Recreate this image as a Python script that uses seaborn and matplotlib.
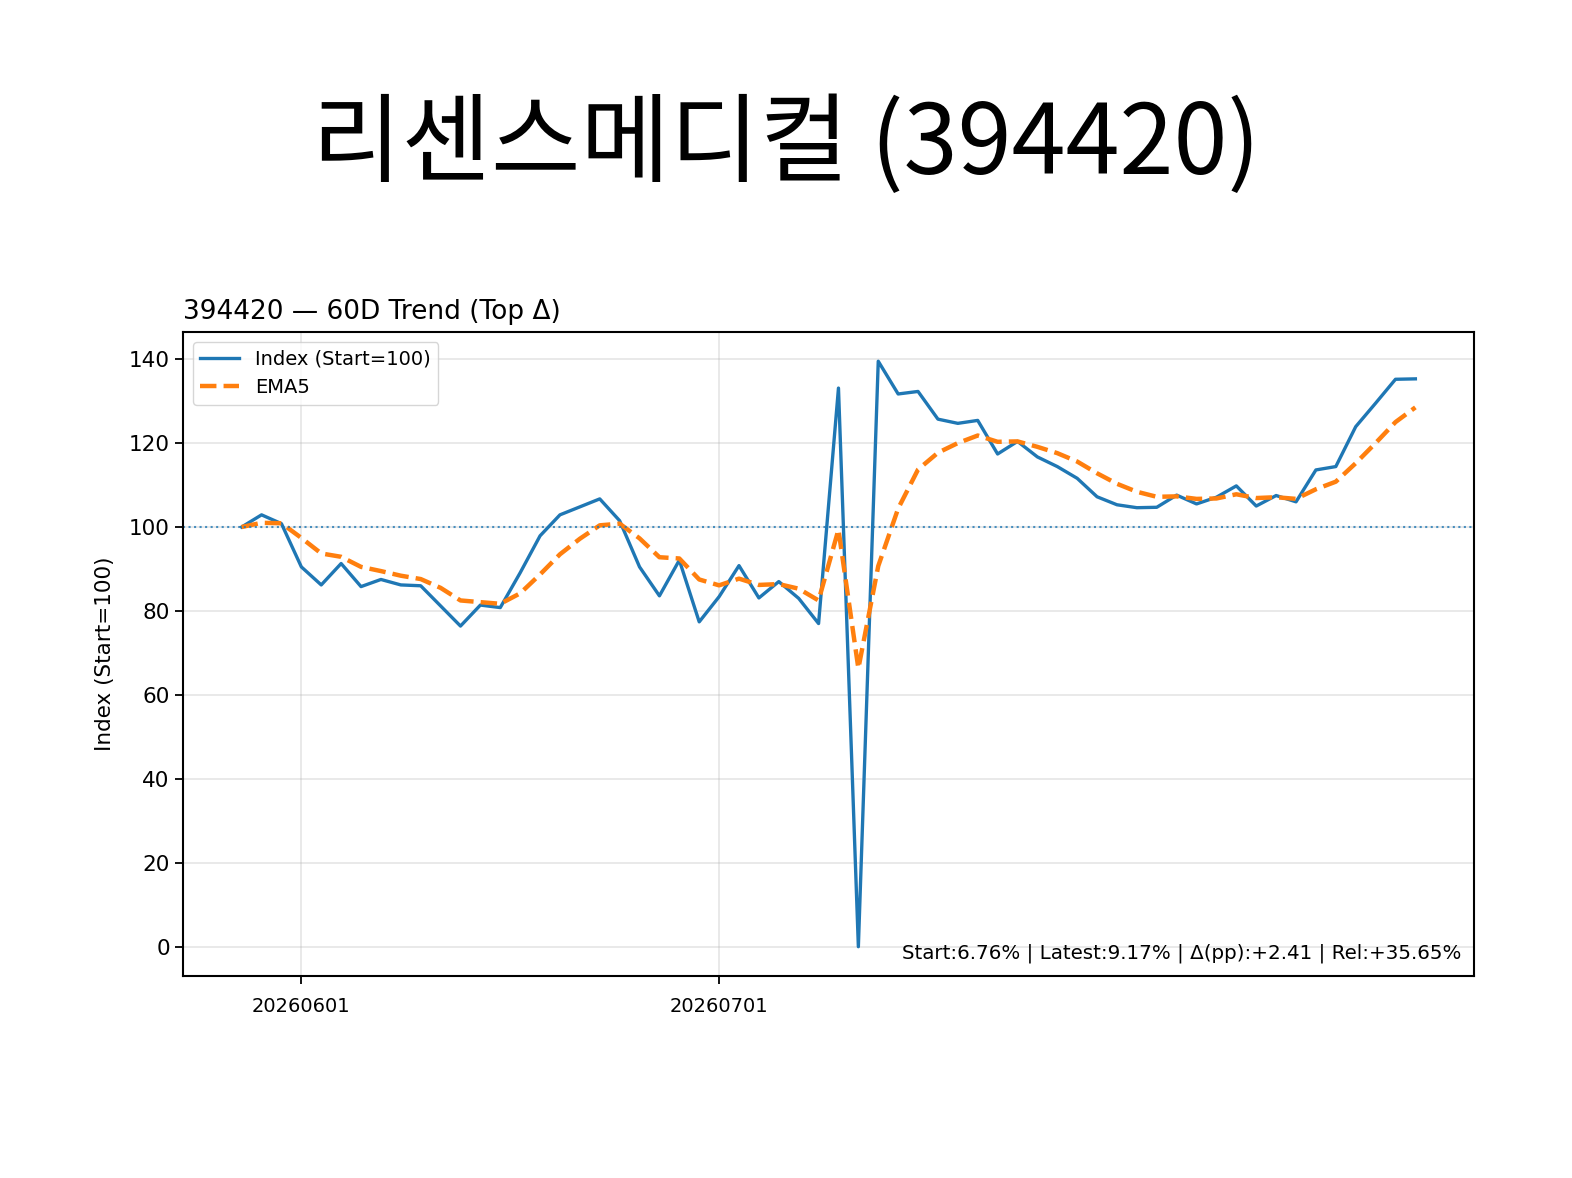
import pandas as pd
import matplotlib
matplotlib.use("Agg")
import matplotlib.pyplot as plt
import seaborn as sns

# trading days (KRX), 60 sessions
dates = ["20260527", "20260528", "20260529",
         "20260601", "20260602", "20260604", "20260605", "20260608", "20260609",
         "20260610", "20260611", "20260612", "20260615", "20260616", "20260617",
         "20260618", "20260619", "20260622", "20260623", "20260624", "20260625",
         "20260626", "20260629", "20260630",
         "20260701", "20260702", "20260703", "20260706", "20260707", "20260708",
         "20260709", "20260710", "20260713", "20260714", "20260715", "20260716",
         "20260717", "20260720", "20260721", "20260722", "20260723", "20260724",
         "20260727", "20260728", "20260729", "20260730", "20260731",
         "20260803", "20260804", "20260805", "20260806", "20260807", "20260810",
         "20260811", "20260812", "20260813", "20260814", "20260818", "20260819",
         "20260820"]

index_vals = [100.0, 102.9, 100.8, 90.5, 86.2, 91.3, 85.8, 87.5, 86.2, 86.0,
              81.2, 76.4, 81.4, 80.8, 89.1, 97.9, 102.9, 104.8, 106.7, 101.5,
              90.5, 83.6, 92.1, 77.4, 83.4, 90.8, 83.1, 87.0, 83.0, 77.0,
              133.1, 0.0, 139.5, 131.7, 132.3, 125.7, 124.7, 125.4, 117.4, 120.4,
              116.7, 114.4, 111.6, 107.2, 105.3, 104.6, 104.7, 107.6, 105.5, 107.1,
              109.8, 105.0, 107.5, 106.0, 113.6, 114.4, 123.9, 129.5, 135.2, 135.3]

ema5_vals = [100.0, 101.0, 100.9, 97.4, 93.7, 92.9, 90.5, 89.5, 88.4, 87.6,
             85.5, 82.5, 82.1, 81.7, 84.2, 88.7, 93.5, 97.2, 100.4, 100.8,
             97.3, 92.8, 92.5, 87.5, 86.1, 87.7, 86.2, 86.4, 85.3, 82.5,
             99.4, 66.3, 90.7, 104.4, 113.7, 117.7, 120.0, 121.8, 120.3, 120.4,
             119.1, 117.6, 115.6, 112.8, 110.3, 108.4, 107.2, 107.3, 106.7, 106.8,
             107.8, 106.9, 107.1, 106.7, 109.0, 110.8, 115.2, 120.0, 125.0, 128.5]

tick_labels = ["20260601", "20260701"]

code = "394420"
name = "리센스메디컬"
stats_text = "Start:6.76% | Latest:9.17% | Δ(pp):+2.41 | Rel:+35.65%"

df = pd.DataFrame({"pos": range(len(dates)), "date": dates,
                   "idx": index_vals, "ema": ema5_vals})

fig = plt.figure(figsize=(15.72, 11.78), dpi=100)
fig.set_facecolor("white")
ax = fig.add_axes([0.1164, 0.1715, 0.8213, 0.5467])

sns.lineplot(data=df, x="pos", y="idx", ax=ax, color="#1f77b4", linewidth=2.4,
             label="Index (Start=100)")
sns.lineplot(data=df, x="pos", y="ema", ax=ax, color="#ff7f0e", linewidth=3.2,
             linestyle="--", label="EMA5")
ax.axhline(100, color="#1f77b4", linestyle=":", linewidth=1.5, alpha=0.8)

ax.set_xticks([dates.index(t) for t in tick_labels])
ax.set_xticklabels(tick_labels, fontsize=14)
ax.tick_params(axis="y", labelsize=15.5)
ax.tick_params(axis="x", pad=9)
ax.tick_params(length=6, width=1.3)
ax.grid(True, alpha=0.3, linewidth=1.3)
for s in ax.spines.values():
    s.set_linewidth(1.5)

ax.set_xlabel("")
ax.set_ylabel("Index (Start=100)", fontsize=15.5, labelpad=10)
ax.set_title(f"{code} — 60D Trend (Top Δ)", loc="left", fontsize=19, pad=9)
ax.legend(loc="upper left", fontsize=14, handlelength=2.0)
ax.text(0.99, 0.02, stats_text, transform=ax.transAxes, ha="right", va="bottom",
        fontsize=14.3)

fig.text(0.5, 0.876, f"{name} ({code})", ha="center", va="center", fontsize=70,
         family=["Noto Sans CJK KR", "DejaVu Sans"])

fig.savefig("out.png", dpi=100, facecolor="white")
